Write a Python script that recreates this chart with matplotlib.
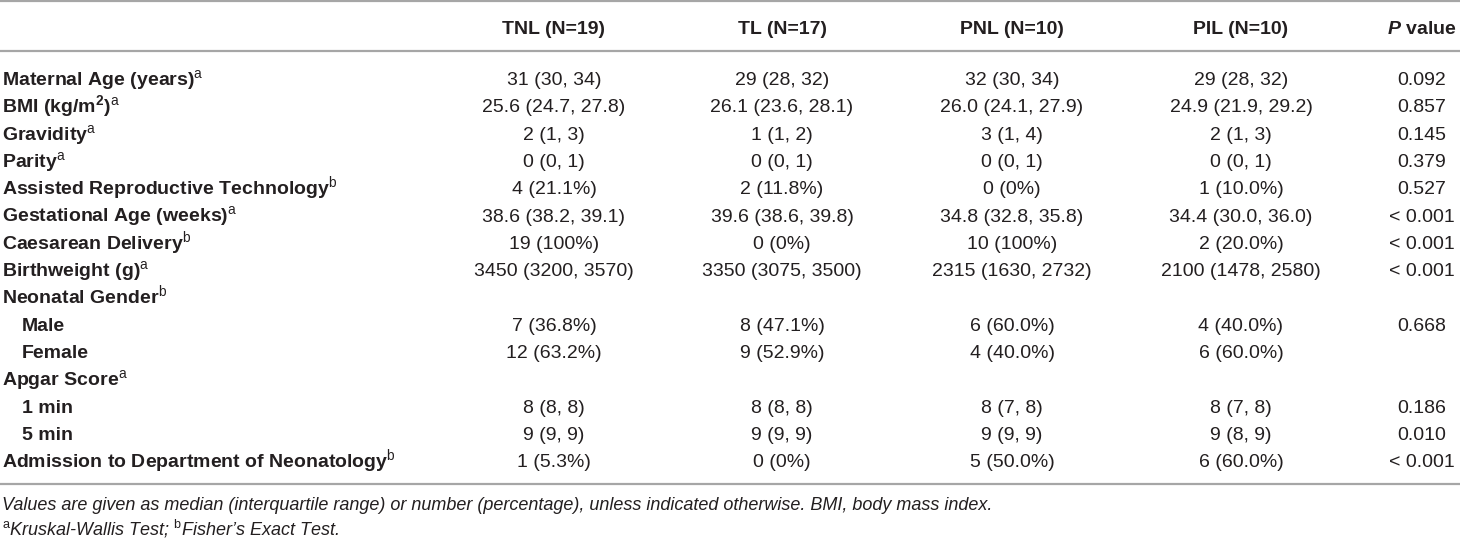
import matplotlib
matplotlib.use('Agg')
import matplotlib.pyplot as plt

# 字体：Liberation Sans 近似 Helvetica/Arial
plt.rcParams['font.family'] = ['Liberation Sans', 'DejaVu Sans']
plt.rcParams['mathtext.fontset'] = 'custom'
plt.rcParams['mathtext.rm'] = 'Liberation Sans'
plt.rcParams['mathtext.bf'] = 'Liberation Sans:bold'
plt.rcParams['mathtext.it'] = 'Liberation Sans:italic:bold'

TEXT_COLOR = '#231f20'
LINE_COLOR = '#a6a6a6'

headers = ['TNL (N=19)', 'TL (N=17)', 'PNL (N=10)', 'PIL (N=10)']
p_header = r'$\mathit{P}$ value'

row_labels = [
    r'Maternal Age (years)$^{\rm a}$',
    r'BMI (kg/m$^{\bf 2}$)$^{\rm a}$',
    r'Gravidity$^{\rm a}$',
    r'Parity$^{\rm a}$',
    r'Assisted Reproductive Technology$^{\rm b}$',
    r'Gestational Age (weeks)$^{\rm a}$',
    r'Caesarean Delivery$^{\rm b}$',
    r'Birthweight (g)$^{\rm a}$',
    r'Neonatal Gender$^{\rm b}$',
    'Male',
    'Female',
    r'Apgar Score$^{\rm a}$',
    '1 min',
    '5 min',
    r'Admission to Department of Neonatology$^{\rm b}$',
]
indented = [False] * 9 + [True, True, False, True, True, False]

tnl = ['31 (30, 34)', '25.6 (24.7, 27.8)', '2 (1, 3)', '0 (0, 1)', '4 (21.1%)',
       '38.6 (38.2, 39.1)', '19 (100%)', '3450 (3200, 3570)', '',
       '7 (36.8%)', '12 (63.2%)', '', '8 (8, 8)', '9 (9, 9)', '1 (5.3%)']
tl = ['29 (28, 32)', '26.1 (23.6, 28.1)', '1 (1, 2)', '0 (0, 1)', '2 (11.8%)',
      '39.6 (38.6, 39.8)', '0 (0%)', '3350 (3075, 3500)', '',
      '8 (47.1%)', '9 (52.9%)', '', '8 (8, 8)', '9 (9, 9)', '0 (0%)']
pnl = ['32 (30, 34)', '26.0 (24.1, 27.9)', '3 (1, 4)', '0 (0, 1)', '0 (0%)',
       '34.8 (32.8, 35.8)', '10 (100%)', '2315 (1630, 2732)', '',
       '6 (60.0%)', '4 (40.0%)', '', '8 (7, 8)', '9 (9, 9)', '5 (50.0%)']
pil = ['29 (28, 32)', '24.9 (21.9, 29.2)', '2 (1, 3)', '0 (0, 1)', '1 (10.0%)',
       '34.4 (30.0, 36.0)', '2 (20.0%)', '2100 (1478, 2580)', '',
       '4 (40.0%)', '6 (60.0%)', '', '8 (7, 8)', '9 (8, 9)', '6 (60.0%)']
p_values = ['0.092', '0.857', '0.145', '0.379', '0.527', '< 0.001', '< 0.001',
            '< 0.001', '', '0.668', '', '', '0.186', '0.010', '< 0.001']

footnotes = [
    'Values are given as median (interquartile range) or number (percentage), '
    'unless indicated otherwise. BMI, body mass index.',
    r'$^{\rm a}$Kruskal-Wallis Test; $^{\rm b}$Fisher’s Exact Test.',
]

W, H = 1460, 540
fig = plt.figure(figsize=(W / 100, H / 100), dpi=100)
ax = fig.add_axes([0, 0, 1, 1])
ax.set_xlim(0, W)
ax.set_ylim(H, 0)
ax.axis('off')

fs = 14
col_x = [554, 782, 1012, 1241]
p_x = 1422
label_x = 2
indent = 20
header_y = 27
row_y0 = 78
row_step = 27.3
base_off = 7   # 行中心到基线的距离（像素）

# 横线
for y in [1, 51, 484]:
    ax.plot([0, W], [y, y], color=LINE_COLOR, lw=1.6, solid_capstyle='butt')

# 表头
for x, h in zip(col_x, headers):
    ax.text(x, header_y + base_off, h, ha='center', va='baseline', fontsize=fs,
            fontweight='bold', color=TEXT_COLOR)
ax.text(p_x, header_y + base_off, p_header, ha='center', va='baseline',
        fontsize=fs, fontweight='bold', color=TEXT_COLOR)

# 数据行
columns = [tnl, tl, pnl, pil]
for i, label in enumerate(row_labels):
    y = row_y0 + i * row_step + base_off
    x0 = label_x + (indent if indented[i] else 0)
    ax.text(x0, y, label, ha='left', va='baseline', fontsize=fs,
            fontweight='bold', color=TEXT_COLOR)
    for x, col in zip(col_x, columns):
        ax.text(x, y, col[i], ha='center', va='baseline', fontsize=fs,
                color=TEXT_COLOR)
    ax.text(p_x, y, p_values[i], ha='center', va='baseline', fontsize=fs,
            color=TEXT_COLOR)

# 脚注
for j, note in enumerate(footnotes):
    ax.text(label_x, 504 + j * 25 + 6, note, ha='left', va='baseline',
            fontsize=13, fontstyle='italic', color=TEXT_COLOR)

fig.savefig('out.png', dpi=100, facecolor='white')
